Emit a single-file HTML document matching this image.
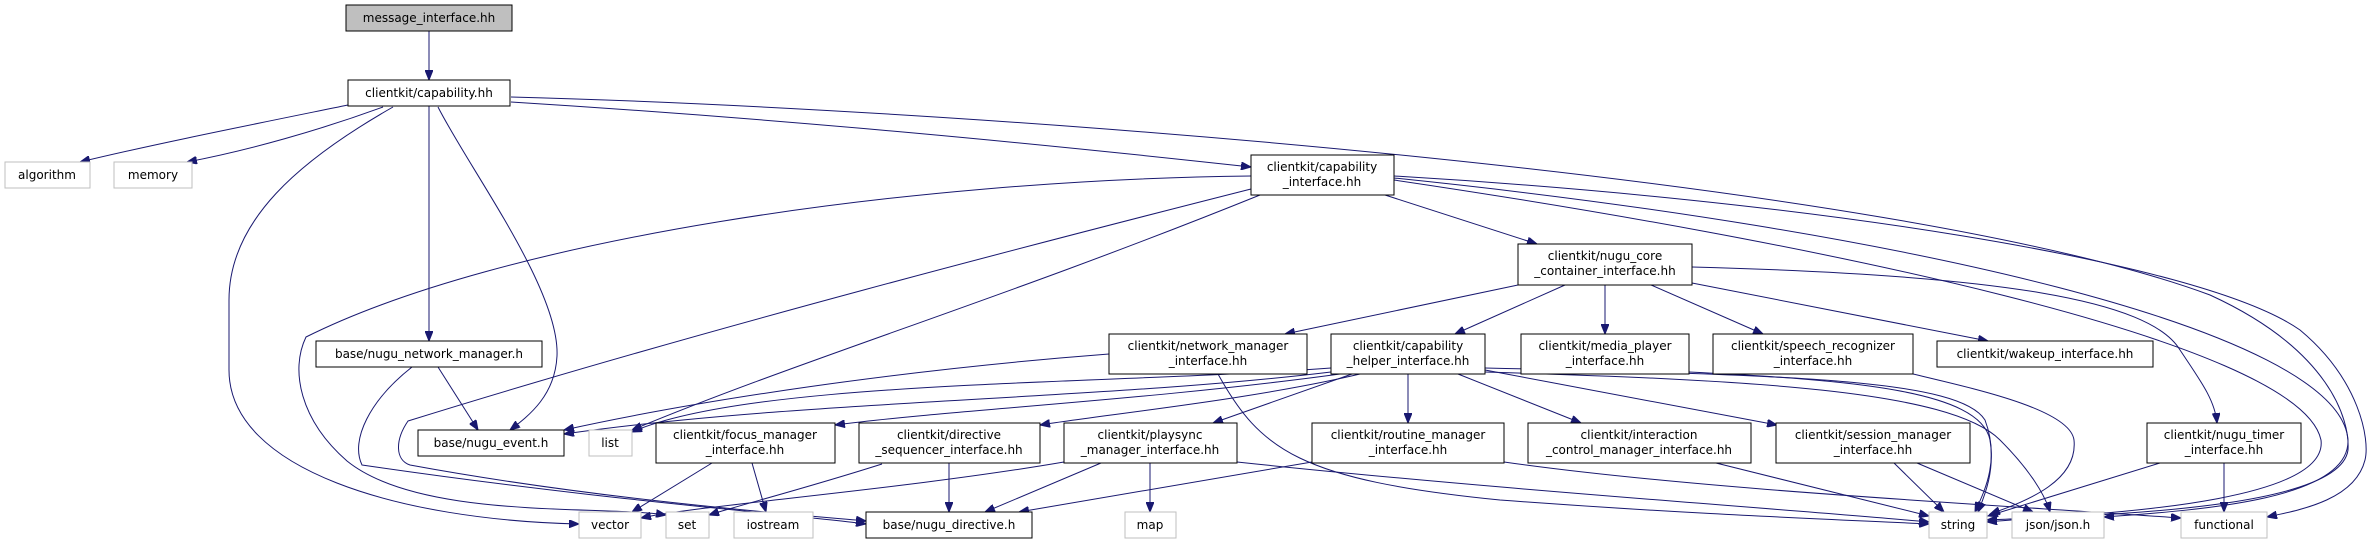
<!DOCTYPE html>
<html><head><meta charset="utf-8"><style>
html,body{margin:0;padding:0;background:#fff;}
svg{display:block;}
text{font-family:"DejaVu Sans","Liberation Sans",sans-serif;font-size:12px;fill:#000;}
.n{fill:#fff;stroke:#000;stroke-width:1;}
.g{fill:#fff;stroke:#bfbfbf;stroke-width:1;}
.e{fill:none;stroke:#191970;stroke-width:1;}
</style></head><body>
<svg width="2371" height="544" viewBox="0 0 2371 544" xmlns="http://www.w3.org/2000/svg">
<defs><marker id="a" markerUnits="userSpaceOnUse" markerWidth="11" markerHeight="8" refX="10" refY="4" orient="auto"><path d="M0,0 L10,4 L0,8 z" fill="#191970" stroke="#191970"/></marker></defs>
<g class="e" marker-end="url(#a)">
<path d="M429,31 L429,80"/>
<path d="M348,105 C250,125 150,145 80,162"/>
<path d="M383,107 C320,130 250,150 187,162"/>
<path d="M393,107 C300,160 229,220 229,300 L229,370 C229,470 400,520 579,524"/>
<path d="M429,106 L429,341"/>
<path d="M438,107 C470,170 560,290 557,356 C555,395 530,415 510,430"/>
<path d="M511,102 C800,120 1050,145 1251,167"/>
<path d="M511,97 C1000,110 1900,180 2210,295 C2330,350 2350,420 2348,450 C2340,510 2100,515 1987,520"/>
<path d="M1394,176 C1800,200 2200,260 2300,330 C2360,380 2370,440 2365,460 C2355,500 2300,510 2267,517"/>
<path d="M1394,178 C1900,230 2340,330 2348,440 C2350,500 2200,510 2104,517"/>
<path d="M1394,180 C1800,240 2300,340 2321,440 C2330,510 2050,515 1987,522"/>
<path d="M1385,195 L1537,244"/>
<path d="M1260,195 C1000,300 800,360 632,430"/>
<path d="M1251,176 C900,180 500,240 306,337 C290,370 300,420 347,461 C420,520 600,505 666,515"/>
<path d="M1251,189 C1050,240 700,330 408,421 C395,440 395,460 410,465 C600,500 800,515 866,521"/>
<path d="M1518,285 L1285,334"/>
<path d="M1565,285 L1455,334"/>
<path d="M1605,285 L1605,334"/>
<path d="M1651,285 L1763,334"/>
<path d="M1692,283 L1988,341"/>
<path d="M1692,267 C2000,275 2150,300 2180,350 C2200,380 2215,400 2217,423"/>
<path d="M1331,372 C1100,400 800,400 564,434"/>
<path d="M1331,368 C1100,385 750,380 632,432"/>
<path d="M1340,374 C1150,400 950,410 835,425"/>
<path d="M1360,374 C1250,400 1100,415 1040,425"/>
<path d="M1352,374 L1213,423"/>
<path d="M1408,374 L1408,423"/>
<path d="M1458,374 L1581,423"/>
<path d="M1485,370 L1777,425"/>
<path d="M1485,372 C1750,380 1950,390 2000,440 C2030,470 2045,495 2050,512"/>
<path d="M1485,368 C1800,375 1960,380 1985,420 C2000,460 1985,490 1975,512"/>
<path d="M1689,372 C1850,380 1980,390 1990,440 C1995,470 1985,495 1978,512"/>
<path d="M1913,374 C1980,390 2070,410 2074,440 C2078,480 2030,500 1990,514"/>
<path d="M2160,463 L1988,516"/>
<path d="M2224,463 L2224,512"/>
<path d="M1894,463 L1944,512"/>
<path d="M1917,463 L2033,512"/>
<path d="M1716,463 L1929,516"/>
<path d="M1504,462 C1700,490 2000,505 2181,518"/>
<path d="M1237,462 C1500,490 1800,510 1929,522"/>
<path d="M1312,462 L1019,512"/>
<path d="M1101,463 L985,512"/>
<path d="M1150,463 L1150,512"/>
<path d="M1064,462 C900,490 700,505 641,518"/>
<path d="M949,463 L949,512"/>
<path d="M882,464 C800,490 740,505 709,515"/>
<path d="M712,463 L632,512"/>
<path d="M752,463 L766,512"/>
<path d="M1109,354 C900,370 700,400 564,430"/>
<path d="M1218,374 C1260,450 1300,480 1500,500 C1700,515 1850,520 1929,524"/>
<path d="M438,367 L478,430"/>
<path d="M412,367 C370,400 350,440 362,465 C600,500 800,515 866,524"/>
</g>
<rect x="346" y="5" width="166" height="26" fill="#bfbfbf" stroke="#000"/>
<text x="429" y="22" text-anchor="middle">message_interface.hh</text>
<rect class="n" x="348" y="80" width="162" height="26"/><text x="429" y="97" text-anchor="middle">clientkit/capability.hh</text>
<rect class="g" x="5" y="162" width="85" height="26"/><text x="47" y="179" text-anchor="middle">algorithm</text>
<rect class="g" x="114" y="162" width="78" height="26"/><text x="153" y="179" text-anchor="middle">memory</text>
<rect class="n" x="316" y="341" width="226" height="26"/><text x="429" y="358" text-anchor="middle">base/nugu_network_manager.h</text>
<rect class="n" x="418" y="430" width="146" height="26"/><text x="491" y="447" text-anchor="middle">base/nugu_event.h</text>
<rect class="g" x="589" y="430" width="43" height="26"/><text x="610" y="447" text-anchor="middle">list</text>
<rect class="n" x="656" y="423" width="179" height="40"/><text x="745" y="439" text-anchor="middle">clientkit/focus_manager</text><text x="745" y="454" text-anchor="middle">_interface.hh</text>
<rect class="g" x="579" y="512" width="62" height="26"/><text x="610" y="529" text-anchor="middle">vector</text>
<rect class="g" x="666" y="512" width="43" height="26"/><text x="687" y="529" text-anchor="middle">set</text>
<rect class="g" x="734" y="512" width="79" height="26"/><text x="773" y="529" text-anchor="middle">iostream</text>
<rect class="n" x="1251" y="155" width="143" height="40"/><text x="1322" y="171" text-anchor="middle">clientkit/capability</text><text x="1322" y="186" text-anchor="middle">_interface.hh</text>
<rect class="n" x="1518" y="244" width="174" height="41"/><text x="1605" y="260" text-anchor="middle">clientkit/nugu_core</text><text x="1605" y="275" text-anchor="middle">_container_interface.hh</text>
<rect class="n" x="1109" y="334" width="198" height="40"/><text x="1208" y="350" text-anchor="middle">clientkit/network_manager</text><text x="1208" y="365" text-anchor="middle">_interface.hh</text>
<rect class="n" x="1331" y="334" width="154" height="40"/><text x="1408" y="350" text-anchor="middle">clientkit/capability</text><text x="1408" y="365" text-anchor="middle">_helper_interface.hh</text>
<rect class="n" x="1521" y="334" width="168" height="40"/><text x="1605" y="350" text-anchor="middle">clientkit/media_player</text><text x="1605" y="365" text-anchor="middle">_interface.hh</text>
<rect class="n" x="1713" y="334" width="200" height="40"/><text x="1813" y="350" text-anchor="middle">clientkit/speech_recognizer</text><text x="1813" y="365" text-anchor="middle">_interface.hh</text>
<rect class="n" x="1937" y="341" width="216" height="26"/><text x="2045" y="358" text-anchor="middle">clientkit/wakeup_interface.hh</text>
<rect class="n" x="859" y="423" width="181" height="40"/><text x="949" y="439" text-anchor="middle">clientkit/directive</text><text x="949" y="454" text-anchor="middle">_sequencer_interface.hh</text>
<rect class="n" x="1064" y="423" width="173" height="40"/><text x="1150" y="439" text-anchor="middle">clientkit/playsync</text><text x="1150" y="454" text-anchor="middle">_manager_interface.hh</text>
<rect class="n" x="1312" y="423" width="192" height="40"/><text x="1408" y="439" text-anchor="middle">clientkit/routine_manager</text><text x="1408" y="454" text-anchor="middle">_interface.hh</text>
<rect class="n" x="1528" y="423" width="223" height="40"/><text x="1639" y="439" text-anchor="middle">clientkit/interaction</text><text x="1639" y="454" text-anchor="middle">_control_manager_interface.hh</text>
<rect class="n" x="1776" y="423" width="194" height="40"/><text x="1873" y="439" text-anchor="middle">clientkit/session_manager</text><text x="1873" y="454" text-anchor="middle">_interface.hh</text>
<rect class="n" x="2147" y="423" width="154" height="40"/><text x="2224" y="439" text-anchor="middle">clientkit/nugu_timer</text><text x="2224" y="454" text-anchor="middle">_interface.hh</text>
<rect class="n" x="866" y="512" width="166" height="26"/><text x="949" y="529" text-anchor="middle">base/nugu_directive.h</text>
<rect class="g" x="1125" y="512" width="51" height="26"/><text x="1150" y="529" text-anchor="middle">map</text>
<rect class="g" x="1929" y="512" width="58" height="26"/><text x="1958" y="529" text-anchor="middle">string</text>
<rect class="g" x="2012" y="512" width="92" height="26"/><text x="2058" y="529" text-anchor="middle">json/json.h</text>
<rect class="g" x="2181" y="512" width="86" height="26"/><text x="2224" y="529" text-anchor="middle">functional</text>
</svg>
</body></html>
